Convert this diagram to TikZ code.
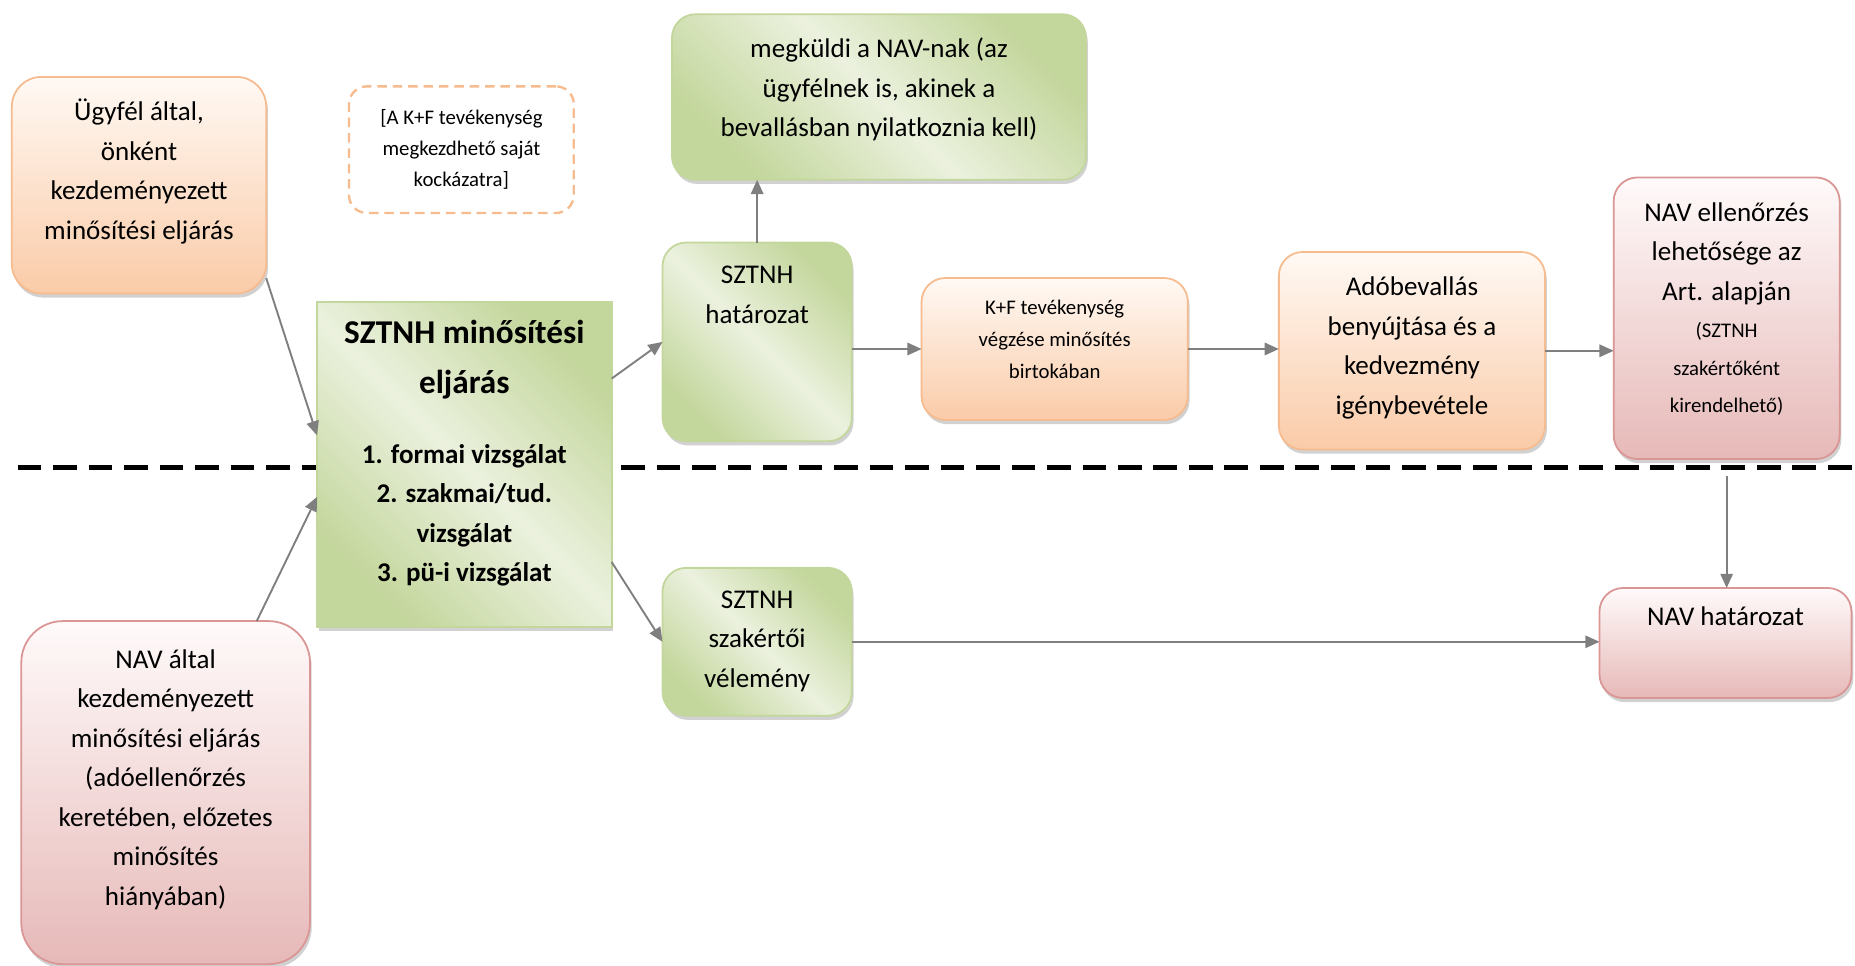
\documentclass[tikz,border=0pt]{standalone}
\usepackage{fontspec}
\setmainfont{Carlito}
\usepackage{tikz}
\usetikzlibrary{positioning}
\usetikzlibrary{arrows.meta}
\usetikzlibrary{shadows}

\definecolor{orTop}{HTML}{FFF9F4}
\definecolor{orBot}{HTML}{FACBA8}
\definecolor{orLine}{HTML}{F6BB8F}
\definecolor{rdTop}{HTML}{FFFAFA}
\definecolor{rdBot}{HTML}{E6B9B8}
\definecolor{rdLine}{HTML}{D99694}
\definecolor{grDark}{HTML}{C3D69B}
\definecolor{grLight}{HTML}{EBF1DE}
\definecolor{arrGray}{HTML}{7F7F7F}

% box text: width, height, first baseline, lines
\newcommand{\boxtxt}[4]{\parbox[t][#2][t]{#1}{\centering\rule{0pt}{#3}#4}}

\tikzset{
  boxbase/.style={anchor=north west, inner sep=0pt, outer sep=0pt, line width=0.3mm,
    rounded corners=4mm, font=\fontsize{13}{19}\selectfont},
  shadowed/.style={drop shadow={shadow xshift=0.3mm, shadow yshift=-0.7mm, opacity=0.3, fill=black!60}},
  orangebox/.style={boxbase, shadowed, draw=orLine, top color=orTop, bottom color=orBot},
  redbox/.style={boxbase, shadowed, draw=rdLine, top color=rdTop, bottom color=rdBot},
  greenbox/.style={boxbase, shadowed, draw=grDark, left color=grDark, right color=grDark,
    middle color=grLight, shading angle=-45},
  notebox/.style={boxbase, draw=orLine, fill=white, line width=0.4mm, rounded corners=3mm,
    dash pattern=on 1.6mm off 1mm},
  small/.style={font=\fontsize{10}{15}\selectfont},
  arr/.style={draw=arrGray, line width=0.32mm, -{Triangle[length=2.4mm,width=2.1mm]}}
}

\begin{document}
\begin{tikzpicture}[x=0.2mm, y=-0.2mm]
\useasboundingbox (0,0) rectangle (1568,816.5);
% border of the two procedures
\draw[line width=0.9mm, dash pattern=on 4mm off 2mm] (15,395) -- (1568,395);
% starting procedures
\node[orangebox, rounded corners=5mm] (ugyfel) at (10,65)
  {\boxtxt{43mm}{36.6mm}{7.4mm}{Ügyfél által,\\ önként\\ kezdeményezett\\ minősítési eljárás}};
\node[notebox, small] (note) at (295,73)
  {\boxtxt{38mm}{21.4mm}{6.4mm}{[A K+F tevékenység\\ megkezdhető saját\\ kockázatra]}};
\node[redbox, rounded corners=7mm] (navaltal) at (18,525)
  {\boxtxt{48.8mm}{58mm}{8mm}{NAV által\\ kezdeményezett\\ minősítési eljárás\\ (adóellenőrzés\\ keretében, előzetes\\ minősítés\\ hiányában)}};
% SZTNH procedure
\node[greenbox, sharp corners] (sztnh) at (268,255)
  {\boxtxt{49.8mm}{55mm}{7.1mm}{\bfseries\fontsize{16}{24}\selectfont SZTNH minősítési\\ eljárás\par
   \vspace{14.5pt}\fontsize{13}{19}\selectfont 1. formai vizsgálat\\ 2. szakmai/tud.\\ vizsgálat\\ 3. pü-i vizsgálat}};
\node[greenbox] (megkuldi) at (568,12)
  {\boxtxt{70mm}{28mm}{7.4mm}{megküldi a NAV-nak (az\\ ügyfélnek is, akinek a\\ bevallásban nyilatkoznia kell)}};
\node[greenbox] (hatarozat) at (560,205)
  {\boxtxt{32mm}{33.6mm}{7mm}{SZTNH\\ határozat}};
\node[greenbox] (velemeny) at (560,480)
  {\boxtxt{32mm}{25mm}{6.8mm}{SZTNH\\ szakértői\\ vélemény}};
% upper row
\node[orangebox, font=\fontsize{10}{15.5}\selectfont] (kf) at (779,235)
  {\boxtxt{45mm}{24mm}{6.1mm}{K+F tevékenység\\ végzése minősítés\\ birtokában}};
\node[orangebox] (bevallas) at (1081,213)
  {\boxtxt{45mm}{33.4mm}{7.4mm}{Adóbevallás\\ benyújtása és a\\ kedvezmény\\ igénybevétele}};
\node[redbox] (ellenorzes) at (1364,150)
  {\boxtxt{38.2mm}{47.6mm}{7.4mm}{NAV ellenőrzés\\ lehetősége az\\ Art. alapján\par
   \fontsize{10}{18}\selectfont (SZTNH\\ szakértőként\\ kirendelhető)}};
% lower row
\node[redbox] (navhat) at (1352,497)
  {\boxtxt{42.6mm}{18.6mm}{6.4mm}{NAV határozat}};
% arrows
\draw[arr] ([yshift=2.6mm]ugyfel.south east) -- ([yshift=4.9mm]sztnh.west);
\draw[arr] ([xshift=-9mm]navaltal.north east) -- ([yshift=-5.5mm]sztnh.west);
\draw[arr] ([yshift=14.5mm]sztnh.east) -- (hatarozat.west);
\draw[arr] ([yshift=-16.5mm]sztnh.east) -- (velemeny.west);
\draw[arr] (hatarozat.north) -- (hatarozat.north |- megkuldi.south);
\draw[arr] (kf.west -| hatarozat.east) -- (kf.west);
\draw[arr] (kf.east) -- (kf.east -| bevallas.west);
\draw[arr] (bevallas.east) -- (bevallas.east -| ellenorzes.west);
\draw[arr] ([yshift=-2.8mm]ellenorzes.south) -- (ellenorzes.south |- navhat.north);
\draw[arr] (velemeny.east) -- (velemeny.east -| navhat.west);
\end{tikzpicture}
\end{document}
